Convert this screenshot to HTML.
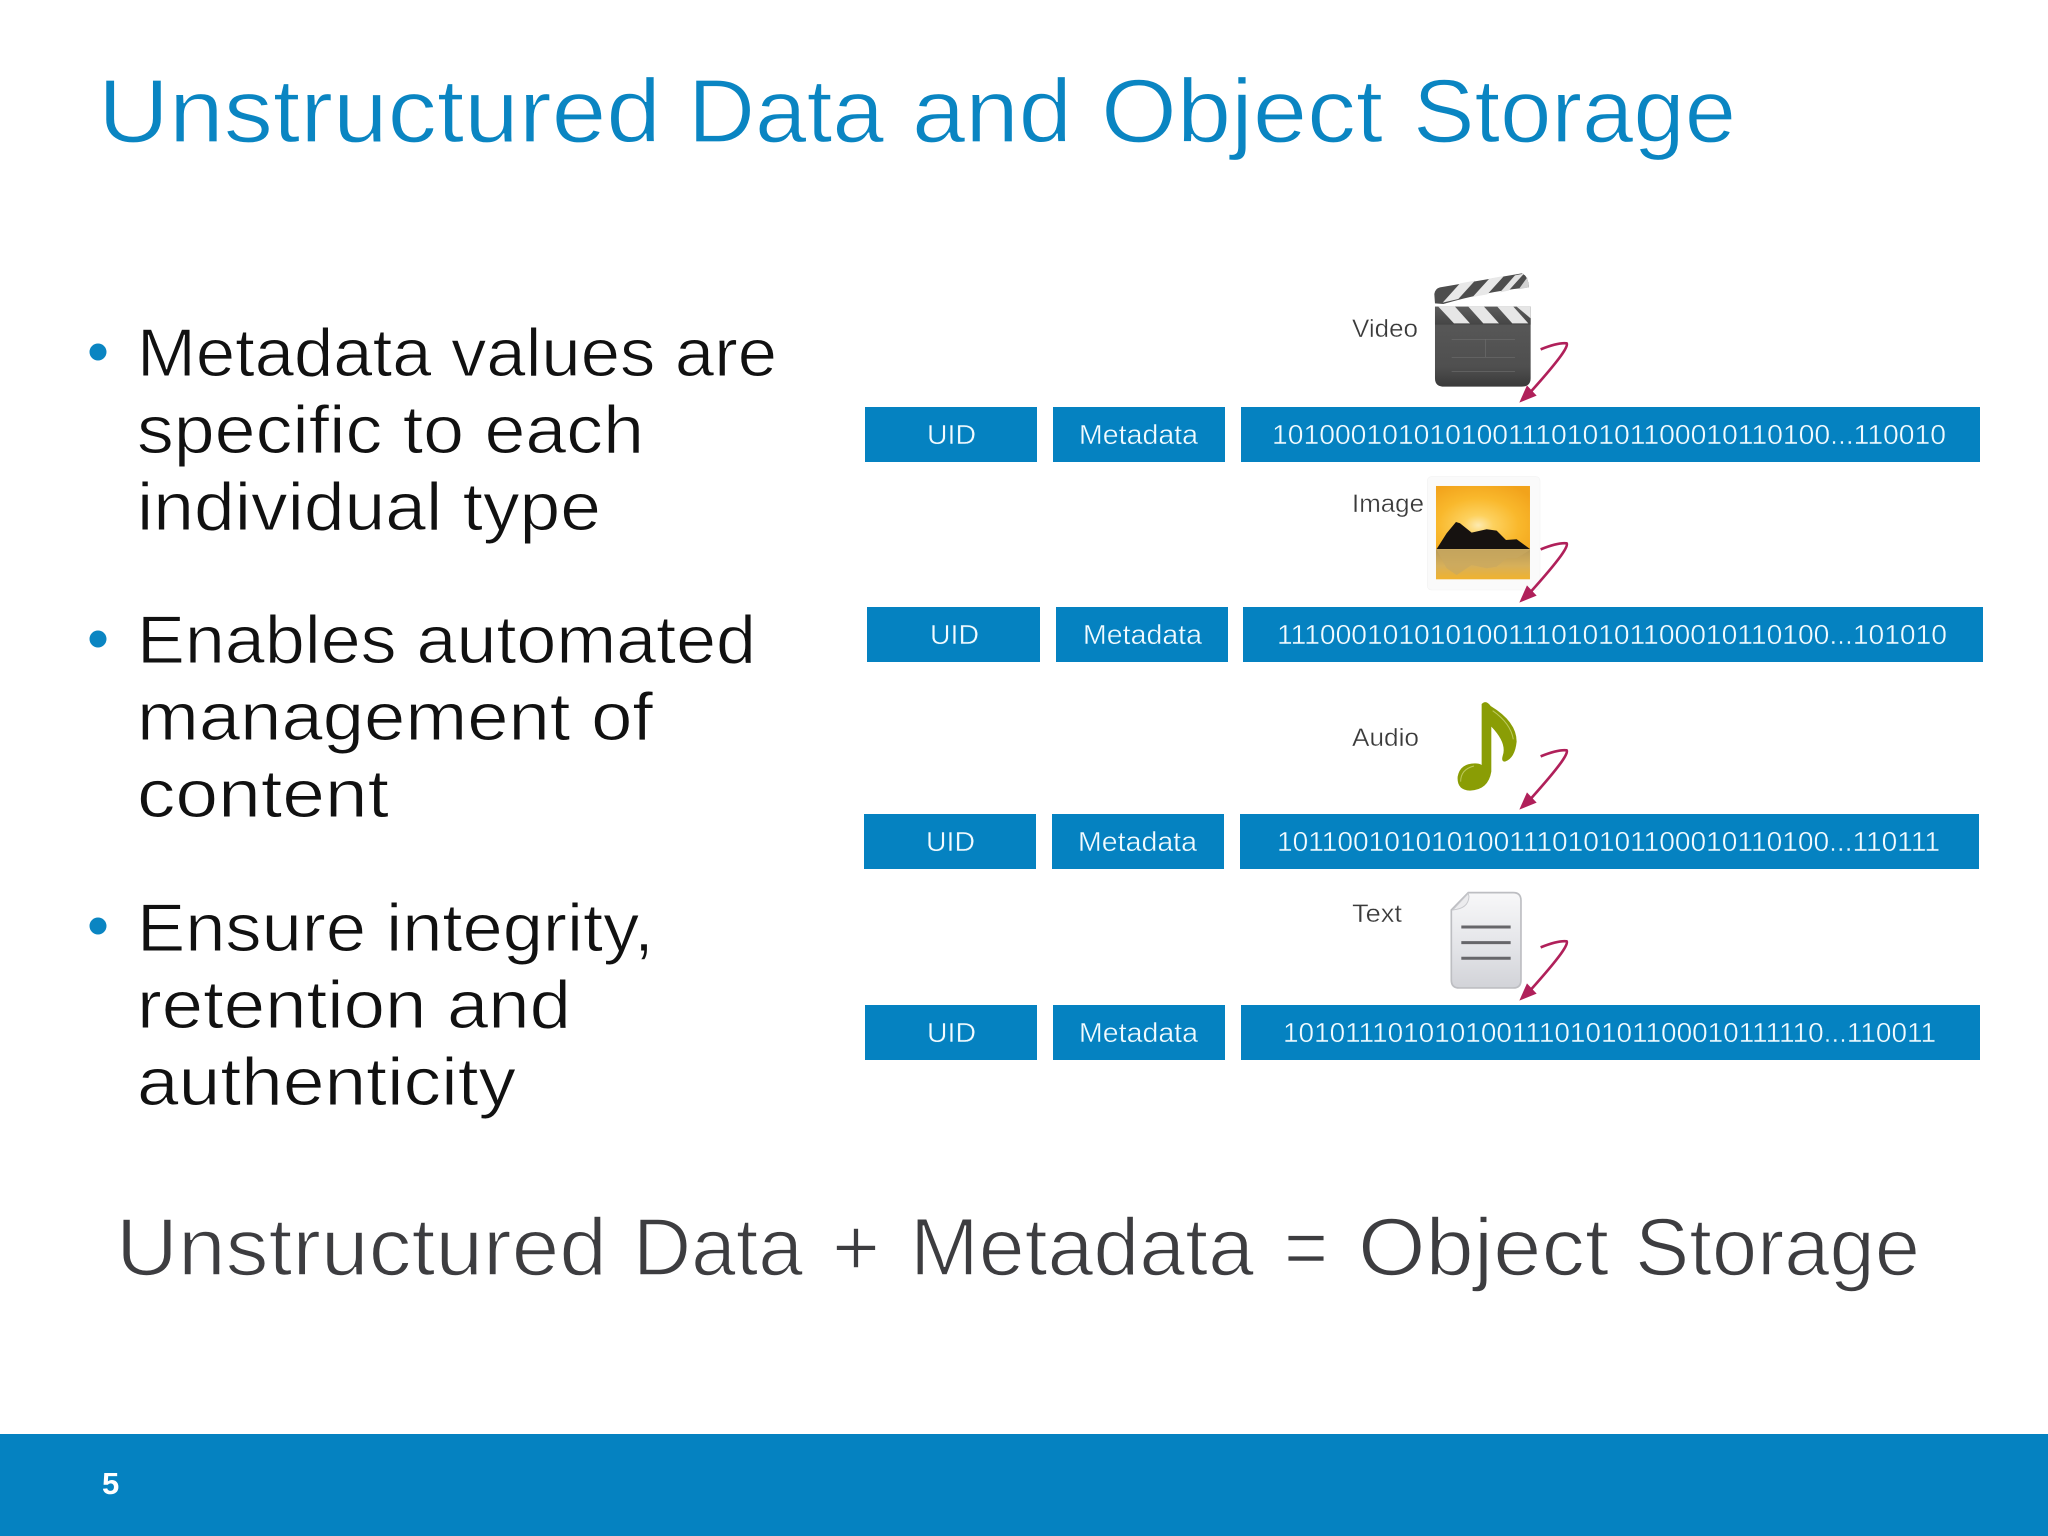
<!DOCTYPE html>
<html lang="en">
<head>
<meta charset="utf-8">
<title>Unstructured Data and Object Storage</title>
<style>
html,body{margin:0;padding:0;background:#fff;width:2048px;height:1536px;overflow:hidden}
svg{display:block}
text{font-family:"Liberation Sans",sans-serif}
.bar{fill:#0582c1}
.bt{fill:#f2fbff;font-size:27.5px;stroke:#0582c1;stroke-width:.4px}
.lbl{fill:#3a3a3a;font-size:25px;stroke:#fff;stroke-width:.35px}
.bl{fill:#111;font-size:68px;stroke:#fff;stroke-width:1px}
.ti{fill:#0a85c2;font-size:90px;stroke:#fff;stroke-width:1.2px}
.bo{fill:#3d3d40;font-size:82px;stroke:#fff;stroke-width:1.6px}
</style>
</head>
<body>
<svg width="2048" height="1536" viewBox="0 0 2048 1536" xmlns="http://www.w3.org/2000/svg">
<defs>
<linearGradient id="body" x1="0" y1="0" x2="0" y2="1"><stop offset="0" stop-color="#5a5a5a"/><stop offset="0.75" stop-color="#4f4f4f"/><stop offset="1" stop-color="#3a3a3a"/></linearGradient>
<linearGradient id="band" x1="0" y1="0" x2="0" y2="1"><stop offset="0" stop-color="#5c5c5c"/><stop offset="1" stop-color="#454545"/></linearGradient>
<radialGradient id="sun" cx="0.45" cy="0.62" r="0.72"><stop offset="0" stop-color="#fdeab0"/><stop offset="0.22" stop-color="#fdd15e"/><stop offset="0.6" stop-color="#f9b82c"/><stop offset="1" stop-color="#f2a31b"/></radialGradient>
<linearGradient id="refl" x1="0" y1="0" x2="0" y2="1"><stop offset="0" stop-color="#b89a58"/><stop offset="0.55" stop-color="#d7b05a"/><stop offset="1" stop-color="#f0b22e"/></linearGradient>
<linearGradient id="doc" x1="0" y1="0" x2="0" y2="1"><stop offset="0" stop-color="#f8f8f9"/><stop offset="0.6" stop-color="#e2e3e7"/><stop offset="1" stop-color="#d2d3d8"/></linearGradient>
<g id="arrow">
<path d="M722 298 C755 285 785 278 800 280 C806 288 785 322 690 428" fill="none" stroke="#b0205a" stroke-width="8"/>
<polygon points="658,458 710,437 681,406" fill="#b0205a"/>
</g>
</defs>

<rect width="2048" height="1536" fill="#fff"/>

<text class="ti" x="98" y="142" textLength="563" lengthAdjust="spacingAndGlyphs">Unstructured</text>
<text class="ti" x="688" y="142" textLength="196" lengthAdjust="spacingAndGlyphs">Data</text>
<text class="ti" x="912" y="142" textLength="160" lengthAdjust="spacingAndGlyphs">and</text>
<text class="ti" x="1101" y="142" textLength="282" lengthAdjust="spacingAndGlyphs">Object</text>
<text class="ti" x="1413" y="142" textLength="323" lengthAdjust="spacingAndGlyphs">Storage</text>

<circle cx="98" cy="352" r="8.5" fill="#0a85c2"/>
<circle cx="98" cy="639" r="8.5" fill="#0a85c2"/>
<circle cx="98" cy="926" r="8.5" fill="#0a85c2"/>

<text class="bl" x="137" y="376" textLength="640" lengthAdjust="spacingAndGlyphs">Metadata values are</text>
<text class="bl" x="137" y="453" textLength="507" lengthAdjust="spacingAndGlyphs">specific to each</text>
<text class="bl" x="137" y="530" textLength="464" lengthAdjust="spacingAndGlyphs">individual type</text>
<text class="bl" x="137" y="663" textLength="619" lengthAdjust="spacingAndGlyphs">Enables automated</text>
<text class="bl" x="137" y="740" textLength="516" lengthAdjust="spacingAndGlyphs">management of</text>
<text class="bl" x="137" y="817" textLength="252" lengthAdjust="spacingAndGlyphs">content</text>
<text class="bl" x="137" y="951" textLength="517" lengthAdjust="spacingAndGlyphs">Ensure integrity,</text>
<text class="bl" x="137" y="1028" textLength="434" lengthAdjust="spacingAndGlyphs">retention and</text>
<text class="bl" x="137" y="1105" textLength="379" lengthAdjust="spacingAndGlyphs">authenticity</text>

<!-- Row 1 -->
<rect class="bar" x="865" y="407" width="172" height="55"/>
<rect class="bar" x="1053" y="407" width="172" height="55"/>
<rect class="bar" x="1241" y="407" width="739" height="55"/>
<text class="bt" x="927" y="444" textLength="49" lengthAdjust="spacingAndGlyphs">UID</text>
<text class="bt" x="1079" y="444" textLength="119" lengthAdjust="spacingAndGlyphs">Metadata</text>
<text class="bt" x="1272" y="444" textLength="674" lengthAdjust="spacingAndGlyphs">101000101010100111010101100010110100...110010</text>

<!-- Row 2 -->
<rect class="bar" x="867" y="607" width="173" height="55"/>
<rect class="bar" x="1056" y="607" width="172" height="55"/>
<rect class="bar" x="1243" y="607" width="740" height="55"/>
<text class="bt" x="930" y="644" textLength="49" lengthAdjust="spacingAndGlyphs">UID</text>
<text class="bt" x="1083" y="644" textLength="119" lengthAdjust="spacingAndGlyphs">Metadata</text>
<text class="bt" x="1277" y="644" textLength="670" lengthAdjust="spacingAndGlyphs">111000101010100111010101100010110100...101010</text>

<!-- Row 3 -->
<rect class="bar" x="864" y="814" width="172" height="55"/>
<rect class="bar" x="1052" y="814" width="172" height="55"/>
<rect class="bar" x="1240" y="814" width="739" height="55"/>
<text class="bt" x="926" y="851" textLength="49" lengthAdjust="spacingAndGlyphs">UID</text>
<text class="bt" x="1078" y="851" textLength="119" lengthAdjust="spacingAndGlyphs">Metadata</text>
<text class="bt" x="1277" y="851" textLength="663" lengthAdjust="spacingAndGlyphs">101100101010100111010101100010110100...110111</text>

<!-- Row 4 -->
<rect class="bar" x="865" y="1005" width="172" height="55"/>
<rect class="bar" x="1053" y="1005" width="172" height="55"/>
<rect class="bar" x="1241" y="1005" width="739" height="55"/>
<text class="bt" x="927" y="1042" textLength="49" lengthAdjust="spacingAndGlyphs">UID</text>
<text class="bt" x="1079" y="1042" textLength="119" lengthAdjust="spacingAndGlyphs">Metadata</text>
<text class="bt" x="1283" y="1042" textLength="653" lengthAdjust="spacingAndGlyphs">101011101010100111010101100010111110...110011</text>

<!-- Labels -->
<text class="lbl" x="1352" y="337" textLength="66" lengthAdjust="spacingAndGlyphs">Video</text>
<text class="lbl" x="1352" y="512" textLength="72" lengthAdjust="spacingAndGlyphs">Image</text>
<text class="lbl" x="1352" y="746" textLength="67" lengthAdjust="spacingAndGlyphs">Audio</text>
<text class="lbl" x="1352" y="922" textLength="50" lengthAdjust="spacingAndGlyphs">Text</text>

<!-- Clapperboard -->
<g transform="translate(1300,250) scale(0.3333)">
<path d="M405 170 H692 V385 Q692 410 665 410 H432 Q405 410 405 385 Z" fill="url(#body)"/>
<rect x="405" y="170" width="287" height="54" fill="url(#band)"/>
<polygon points="415,170 465,170 510,220 462,220" fill="#e6e6e6"/>
<polygon points="505,170 552,170 597,220 550,220" fill="#e6e6e6"/>
<polygon points="592,170 640,170 685,220 637,220" fill="#e6e6e6"/>
<polygon points="650,170 692,170 692,205" fill="#e6e6e6"/>
<path d="M403 132 Q405 116 420 112 L665 70 Q684 76 687 112 Q560 124 430 162 L405 160 Z" fill="#4d4d4d"/>
<polygon points="428,158 480,100 525,92 475,147" fill="#e8e8e8"/>
<polygon points="518,141 568,86 612,78 562,133" fill="#e8e8e8"/>
<polygon points="600,127 645,76 672,71 626,122" fill="#e2e2e2"/>
<polygon points="656,118 682,82 687,112" fill="#d2d2d2"/>
<g stroke="#6d6d6d" stroke-width="2" fill="none"><path d="M455 268 H645 M455 322 H645 M455 365 H645 M556 268 V322"/></g>
</g>
<g transform="translate(1300,250) scale(0.3333)"><use href="#arrow"/></g>

<!-- Image icon -->
<g transform="translate(1300,250) scale(0.3333)">
<rect x="382" y="680" width="338" height="340" rx="12" fill="#fafafa" stroke="#f3f3f3" stroke-width="2"/>
<rect x="408" y="708" width="282" height="190" fill="url(#sun)"/>
<rect x="408" y="898" width="282" height="90" fill="url(#refl)"/>
<polygon points="410,897 440,850 468,816 480,820 515,848 560,838 590,842 618,870 650,868 690,897" fill="#161210"/>
<polygon points="410,900 440,955 470,975 515,945 560,955 590,950 620,925 650,925 690,900" fill="#c9a860" opacity="0.7"/>
</g>
<g transform="translate(1300,450) scale(0.3333)"><use href="#arrow"/></g>

<!-- Music note -->
<g transform="translate(1300,680) scale(0.3333)">
<path d="M545 72 Q558 58 572 78 Q650 125 650 185 Q645 235 615 245 Q603 245 608 228 Q622 190 574 140 L574 275 Q565 330 510 332 Q470 330 473 290 Q480 250 525 250 Q538 250 545 255 Z" fill="#8a9d05"/>
<path d="M578 92 Q632 130 640 178" fill="none" stroke="#bcc95e" stroke-width="3"/>
<path d="M482 305 Q482 268 522 258" fill="none" stroke="#bcc95e" stroke-width="3"/>
</g>
<g transform="translate(1300,657) scale(0.3333)"><use href="#arrow"/></g>

<!-- Document -->
<g transform="translate(1300,680) scale(0.3333)">
<path d="M505 638 H640 Q663 638 663 662 V900 Q663 924 640 924 H478 Q454 924 454 900 V690 Z" fill="url(#doc)" stroke="#bdbec2" stroke-width="5"/>
<path d="M507 650 Q505 686 458 690 L505 640 Z" fill="#ececee" stroke="#c8c9cd" stroke-width="3"/>
<g stroke="#66666a" stroke-width="9"><path d="M484 741 H632 M484 788 H632 M484 835 H632"/></g>
</g>
<g transform="translate(1300,848) scale(0.3333)"><use href="#arrow"/></g>

<text class="bo" x="116" y="1275" textLength="491" lengthAdjust="spacingAndGlyphs">Unstructured</text>
<text class="bo" x="633" y="1275" textLength="170" lengthAdjust="spacingAndGlyphs">Data</text>
<text class="bo" x="832" y="1275" textLength="48" lengthAdjust="spacingAndGlyphs">+</text>
<text class="bo" x="910" y="1275" textLength="344" lengthAdjust="spacingAndGlyphs">Metadata</text>
<text class="bo" x="1284" y="1275" textLength="44" lengthAdjust="spacingAndGlyphs">=</text>
<text class="bo" x="1358" y="1275" textLength="251" lengthAdjust="spacingAndGlyphs">Object</text>
<text class="bo" x="1635" y="1275" textLength="285" lengthAdjust="spacingAndGlyphs">Storage</text>

<rect x="0" y="1434" width="2048" height="102" fill="#0582c1"/>
<text x="102" y="1494" font-size="31" font-weight="bold" fill="#fff">5</text>
</svg>
</body>
</html>
